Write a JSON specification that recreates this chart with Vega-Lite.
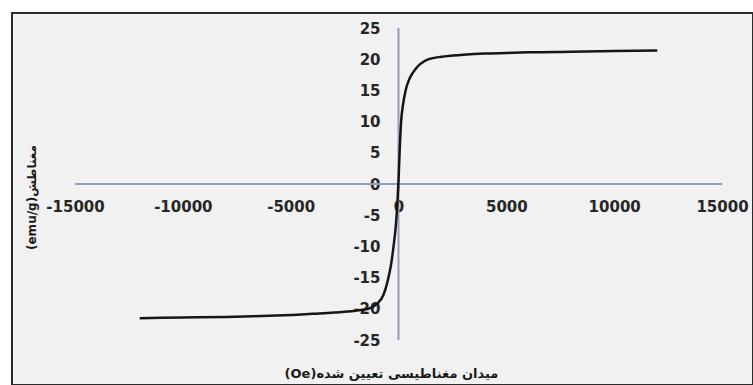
{
  "$schema": "https://vega.github.io/schema/vega-lite/v6.json",
  "width": 741,
  "height": 372,
  "autosize": {"type": "none"},
  "padding": {"left": 12, "top": 13, "right": 0, "bottom": 0},
  "background": "#ffffff",
  "config": {
    "view": {"fill": "#f1f1f1", "stroke": "#2b2b2b", "strokeWidth": 2},
    "axis": {"grid": false, "ticks": false, "domain": false, "labelOverlap": false, "labelBound": false, "labelFlush": false, "labelFont": "DejaVu Sans", "labelFontWeight": "bold", "labelFontSize": 15, "labelColor": "#262626", "titleFont": "DejaVu Sans", "titleFontWeight": "bold", "titleFontSize": 13, "titleColor": "#1a1a1a"},
    "axisY": {"labelOverlap": false},
    "axisLeft": {"labelOverlap": false},
    "axisQuantitative": {"labelOverlap": false}
  },
  "datasets": {
    "curve": [
      {"H": -12000, "M": -21.5},
      {"H": -10000, "M": -21.4},
      {"H": -8000, "M": -21.3},
      {"H": -6000, "M": -21.1},
      {"H": -5000, "M": -21.0},
      {"H": -4000, "M": -20.8},
      {"H": -3000, "M": -20.6},
      {"H": -2000, "M": -20.3},
      {"H": -1400, "M": -20.0},
      {"H": -1000, "M": -19.2},
      {"H": -700, "M": -17.8},
      {"H": -500, "M": -15.5},
      {"H": -350, "M": -13.0},
      {"H": -230, "M": -10.0},
      {"H": -120, "M": -6.5},
      {"H": -50, "M": -3.0},
      {"H": 0, "M": 0.5},
      {"H": 50, "M": 5.0},
      {"H": 120, "M": 10.0},
      {"H": 200, "M": 12.5},
      {"H": 330, "M": 15.0},
      {"H": 500, "M": 16.8},
      {"H": 700, "M": 18.0},
      {"H": 1000, "M": 19.2},
      {"H": 1400, "M": 20.0},
      {"H": 2000, "M": 20.4},
      {"H": 3000, "M": 20.7},
      {"H": 4000, "M": 20.9},
      {"H": 5000, "M": 21.0},
      {"H": 6000, "M": 21.1},
      {"H": 8000, "M": 21.2},
      {"H": 10000, "M": 21.3},
      {"H": 12000, "M": 21.4}
    ],
    "hline": [{"H": -15000, "H2": 15000, "M": 0}],
    "vline": [{"H": 0, "M": -25, "M2": 25}]
  },
  "encoding": {
    "x": {"field": "H", "type": "quantitative", "scale": {"domain": [-17921, 16437], "nice": false, "zero": false},
      "axis": {"orient": "bottom", "offset": -201, "labelOverlap": false, "values": [-15000, -10000, -5000, 0, 5000, 10000, 15000], "labelExpr": "datum.value < 0 ? '-' + abs(datum.value) : '' + datum.value", "labelPadding": 15, "labelBaseline": "top",
        "title": "\u202bمیدان مغناطیسی تعیین شده(Oe)\u202c", "titleX": 379, "titleY": 189, "titleAlign": "center", "titleBaseline": "middle", "titleAnchor": null}},
    "y": {"field": "M", "type": "quantitative", "scale": {"domain": [-32.21, 27.404], "nice": false, "zero": false},
      "axis": {"orient": "left", "offset": -386, "labelOverlap": false, "labelSeparation": 0, "values": [-25, -20, -15, -10, -5, 0, 5, 10, 15, 20, 25], "labelExpr": "datum.value < 0 ? '-' + abs(datum.value) : '' + datum.value", "labelPadding": 18, "labelAlign": "right", "labelBaseline": "middle",
        "title": "\u202bمغناطش(emu/g)\u202c", "titleX": -367, "titleY": 184, "titleAngle": -90, "titleAlign": "center", "titleBaseline": "middle", "titleFontSize": 12}}
  },
  "layer": [
    {
      "data": {"name": "hline"},
      "mark": {"type": "rule", "color": "#8f9fba", "strokeWidth": 2},
      "encoding": {
        "x2": {"field": "H2"}
      }
    },
    {
      "data": {"name": "vline"},
      "mark": {"type": "rule", "color": "#8f9fba", "strokeWidth": 2},
      "encoding": {
        "y2": {"field": "M2"}
      }
    },
    {
      "data": {"name": "curve"},
      "mark": {"type": "line", "color": "#151515", "strokeWidth": 2.5, "interpolate": "monotone"},
      "encoding": {}
    }
  ]
}
